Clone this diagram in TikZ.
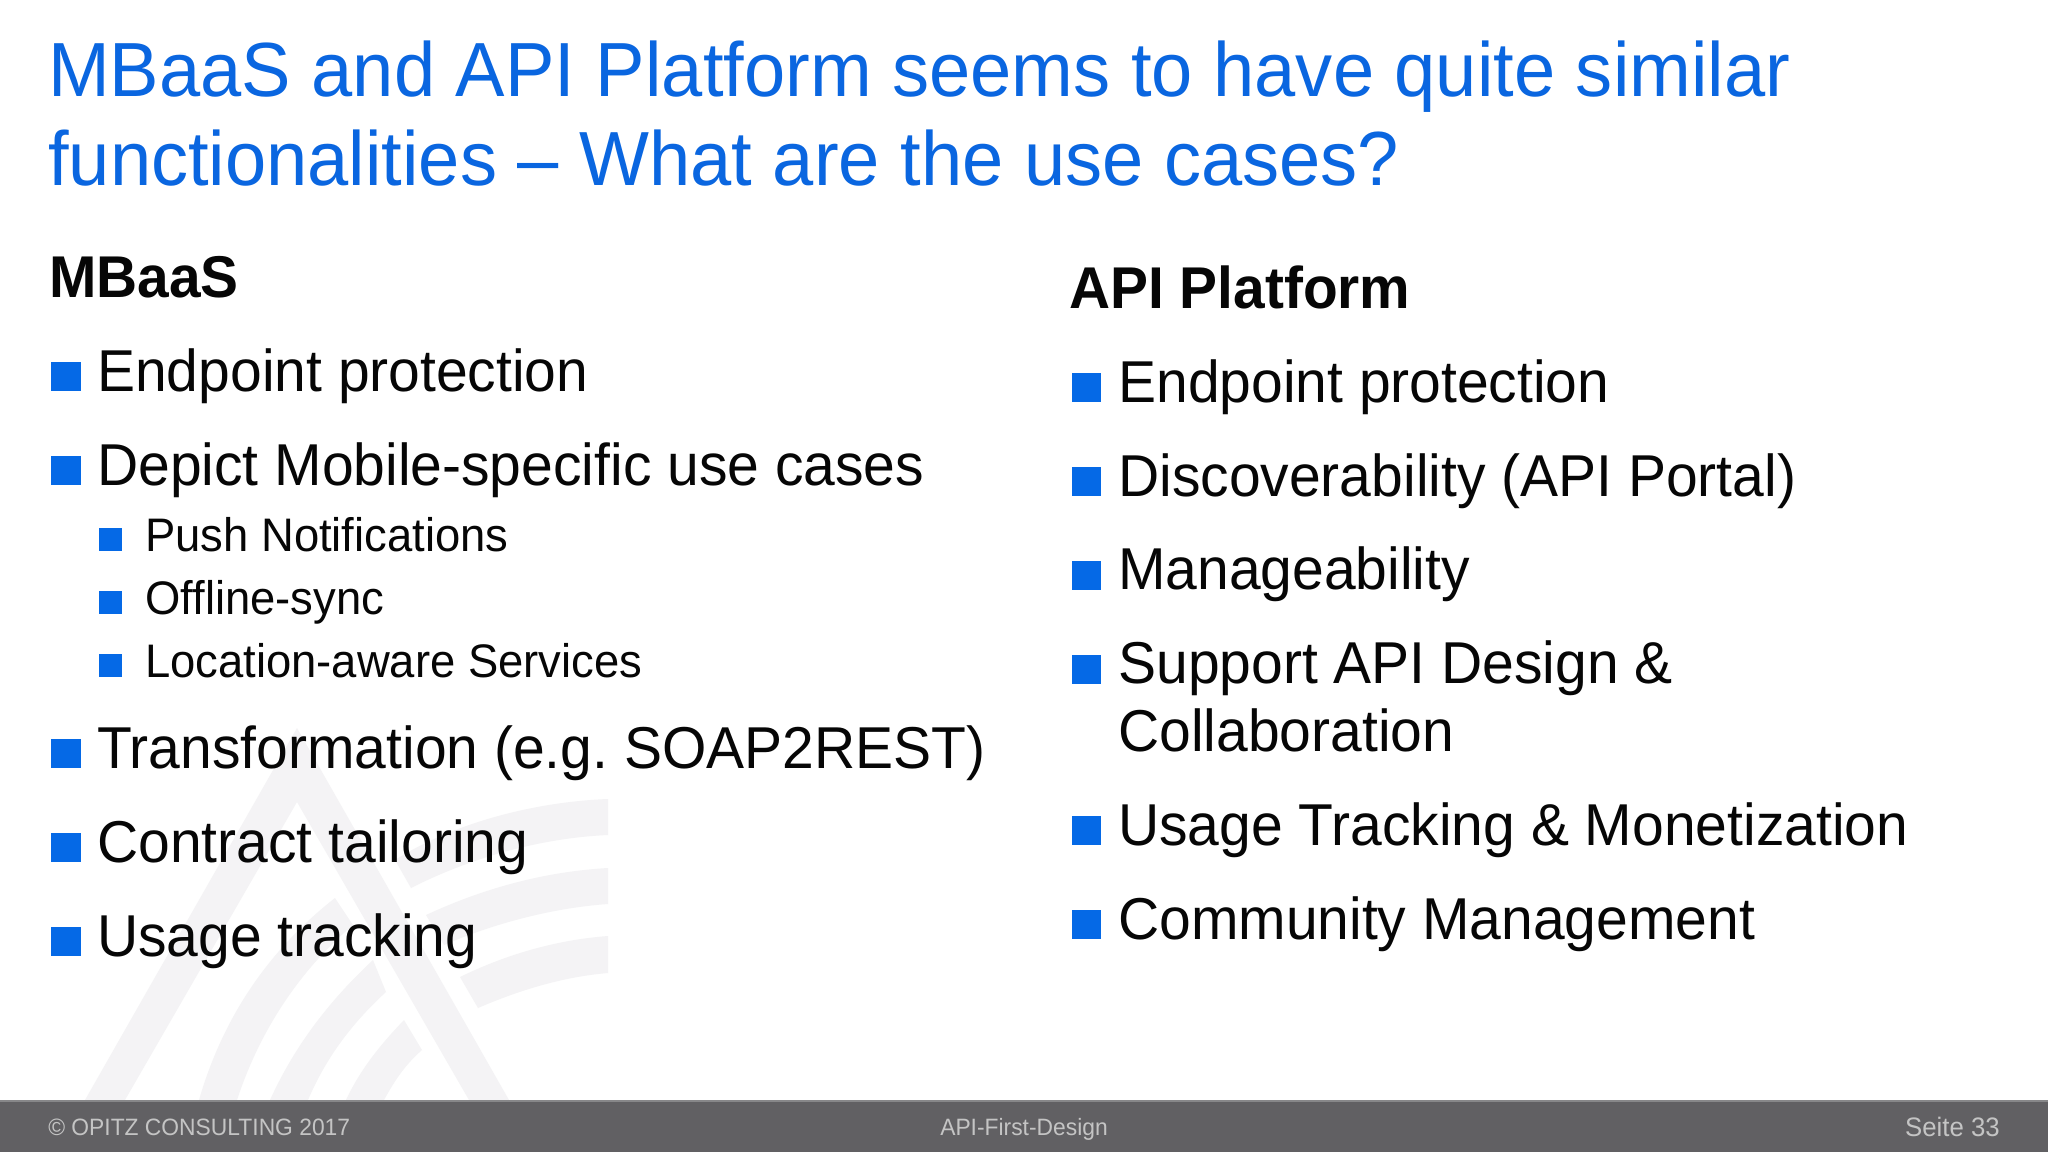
\documentclass[tikz,border=0pt]{standalone}
\usepackage{fontspec}
\setmainfont[FakeStretch=0.965]{Liberation Sans}
\definecolor{titleblue}{RGB}{10,102,224}
\definecolor{barblue}{RGB}{5,105,230}
\definecolor{footgrey}{RGB}{97,96,99}
\definecolor{footline}{RGB}{135,135,137}
\definecolor{footfont}{RGB}{196,196,196}
\definecolor{logogrey}{RGB}{244,243,245}
\definecolor{textdark}{RGB}{6,6,6}
% 1 unit is 1px of the 2048 wide slide
\tikzset{
x=0.0254cm,y=-0.0254cm,
headline/.style={anchor=base west,inner sep=0pt,font=\fontsize{55.5}{55.5}\selectfont,text=titleblue},
columnhead/.style={anchor=base west,inner sep=0pt,font=\bfseries\fontsize{42.6}{42.6}\selectfont,text=textdark},
itemtext/.style={anchor=base west,inner sep=0pt,font=\fontsize{42.7}{42.7}\selectfont,text=textdark},
subtext/.style={anchor=base west,inner sep=0pt,font=\fontsize{34}{34}\selectfont,text=textdark},
footertext/.style={anchor=base west,inner sep=0pt,font=\fontsize{17.1}{17.1}\selectfont,text=footfont},
}
\begin{document}
\frenchspacing
\begin{tikzpicture}
\useasboundingbox (0,0) rectangle (2048,1152);
\fill[white] (0,0) rectangle (2048,1152);
%logo
\fill[logogrey] (85,1100) -- (297,728) -- (509,1100) -- (469,1100) -- (297,802) -- (125,1100) -- cycle;
\fill[logogrey] (395,860) .. controls (450,825) and (530,802) .. (608,799) -- (608,835) .. controls (540,838) and (470,858) .. (411,888) -- cycle;
\fill[logogrey] (426,915) .. controls (480,890) and (540,872) .. (608,868) -- (608,904) .. controls (550,908) and (490,925) .. (444,945) -- cycle;
\fill[logogrey] (460,977) .. controls (505,955) and (555,940) .. (608,936) -- (608,973) .. controls (560,977) and (515,992) .. (478,1008) -- cycle;
\fill[logogrey] (199,1100) .. controls (225,1010) and (275,945) .. (335,898) -- (353,925) .. controls (300,970) and (260,1030) .. (237,1100) -- cycle;
\fill[logogrey] (270,1100) .. controls (295,1045) and (330,1000) .. (373,960) -- (386,992) .. controls (350,1025) and (325,1060) .. (308,1100) -- cycle;
\fill[logogrey] (346,1100) .. controls (360,1070) and (380,1045) .. (404,1020) -- (422,1050) .. controls (405,1065) and (395,1080) .. (384,1100) -- cycle;
%title
\node[headline] (title1) at (48,96) {MBaaS and API Platform seems to have quite similar};
\node[headline] (title2) at (48,185) {functionalities -- What are the use cases?};
%left column
\node[columnhead] (leftHead) at (49,297) {MBaaS};
\fill[barblue] (51,391) rectangle ++(30,-29);
\node[itemtext] (l1) at (97,391) {Endpoint protection};
\fill[barblue] (51,485) rectangle ++(30,-29);
\node[itemtext] (l2) at (97,485) {Depict Mobile-specific use cases};
\fill[barblue] (99,551) rectangle ++(23,-23);
\node[subtext] (s1) at (145,551) {Push Notifications};
\fill[barblue] (99,614) rectangle ++(23,-23);
\node[subtext] (s2) at (145,614) {Offline-sync};
\fill[barblue] (99,677) rectangle ++(23,-23);
\node[subtext] (s3) at (145,677) {Location-aware Services};
\fill[barblue] (51,768) rectangle ++(30,-29);
\node[itemtext] (l3) at (97,768) {Transformation (e.g. SOAP2REST)};
\fill[barblue] (51,862) rectangle ++(30,-29);
\node[itemtext] (l4) at (97,862) {Contract tailoring};
\fill[barblue] (51,956) rectangle ++(30,-29);
\node[itemtext] (l5) at (97,956) {Usage tracking};
%right column
\node[columnhead] (rightHead) at (1069,308) {API Platform};
\fill[barblue] (1072,402) rectangle ++(29,-29);
\node[itemtext] (r1) at (1118,402) {Endpoint protection};
\fill[barblue] (1072,496) rectangle ++(29,-29);
\node[itemtext] (r2) at (1118,496) {Discoverability (API Portal)};
\fill[barblue] (1072,589.5) rectangle ++(29,-29);
\node[itemtext] (r3) at (1118,589.5) {Manageability};
\fill[barblue] (1072,683.5) rectangle ++(29,-29);
\node[itemtext] (r4) at (1118,683.5) {Support API Design \&};
\node[itemtext] (r4b) at (1118,751.5) {Collaboration};
\fill[barblue] (1072,845) rectangle ++(29,-29);
\node[itemtext] (r5) at (1118,845) {Usage Tracking \& Monetization};
\fill[barblue] (1072,939) rectangle ++(29,-29);
\node[itemtext] (r6) at (1118,939) {Community Management};
%footer
\fill[footgrey] (0,1100) rectangle (2048,1152);
\fill[footline] (0,1100) rectangle (2048,1102);
\node[footertext] (footLeft) at (48,1135) {© OPITZ CONSULTING 2017};
\node[footertext,anchor=base] (footMid) at (1024,1135) {API-First-Design};
\node[footertext,anchor=base east,font=\fontsize{19.3}{19.3}\selectfont] (footRight) at (2000,1136) {Seite 33};
\end{tikzpicture}
\end{document}
